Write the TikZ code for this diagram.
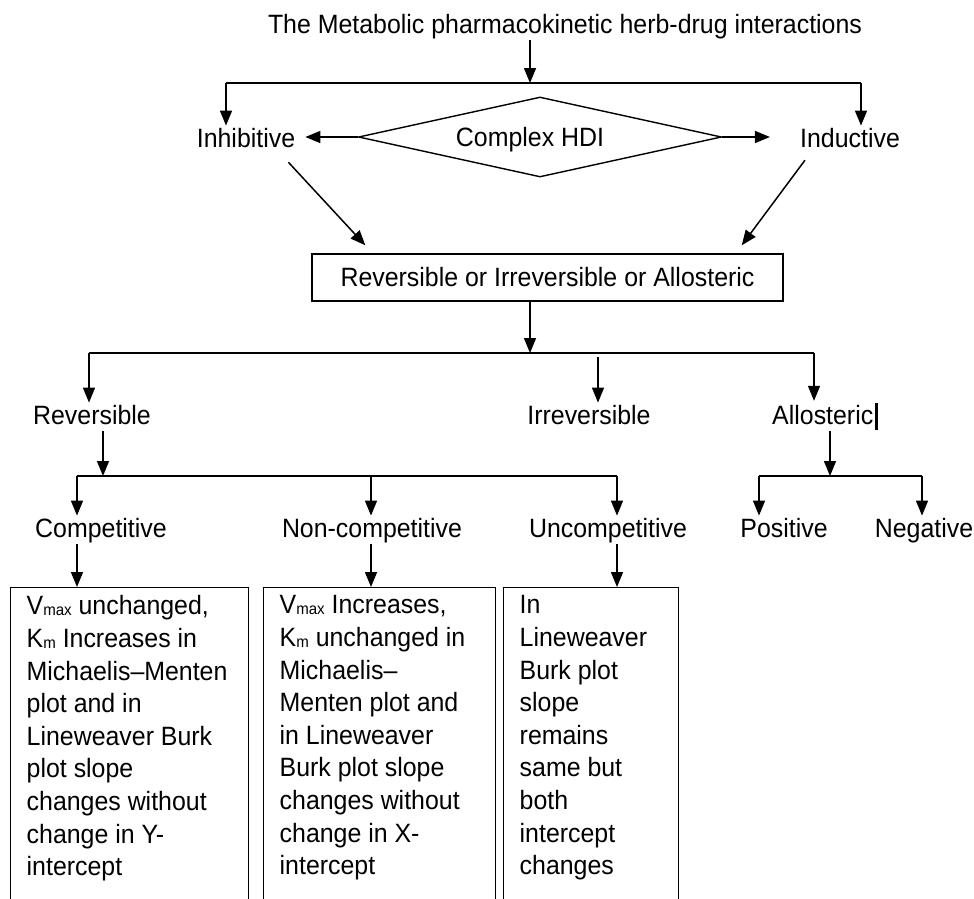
\documentclass[tikz,border=0pt]{standalone}
\usepackage{fontspec}
\setmainfont{Liberation Sans}[FakeStretch=0.94]
\usetikzlibrary{shapes.geometric, arrows.meta, calc}
\newcommand{\lowtxt}[1]{\raisebox{-1pt}{\fontsize{16}{16}\selectfont #1}}
\tikzset{
    % plain text labels
    tag/.style={
        anchor=base,
        inner sep=2pt,
        text depth=5pt,
        font=\fontsize{26.5}{32}\selectfont
    },
    frame/.style={
        rectangle,
        draw,
        line width=1.4pt,
        align=center,
        font=\fontsize{26.5}{32}\selectfont
    },
    decision/.style={
        diamond,
        draw,
        line width=1.4pt,
        minimum width=363pt,
        minimum height=80pt,
        aspect=4.5,
        inner sep=0pt
    },
    detailbox/.style={
        rectangle,
        draw,
        line width=1.4pt,
        anchor=north west,
        inner xsep=16pt,
        inner ysep=8pt,
        font=\fontsize{26.5}{32.6}\selectfont
    },
    % connectors
    arrow/.style={
        -{Triangle[length=15pt,width=12pt]},
        line width=1.5pt
    },
    link/.style={
        line width=1.5pt
    }
}

\begin{document}
\begin{tikzpicture}[x=1pt, y=-1pt]
    \useasboundingbox (0,0) rectangle (974,898);
    \clip (0,0) rectangle (974,898);

    % Top level
    \node[tag] (title) at (565,33) {The Metabolic pharmacokinetic herb-drug interactions};
    \node[tag] (inh) at (246,147) {Inhibitive};
    \node[tag] (ind) at (850,147) {Inductive};
    \node[decision] (hdi) at (540,137) {};
    \node[tag] (hditxt) at (530,146) {Complex HDI};
    \node[frame, minimum width=471pt, minimum height=47pt] (rio) at (547.5,277.5) {Reversible or Irreversible or Allosteric};

    \coordinate (j1) at (530,83);
    \coordinate (t1) at (226,83);
    \coordinate (t2) at (861,83);
    \draw[arrow] (title.south -| j1) -- (j1);
    \draw[link] (t1) -- (t2);
    \draw[arrow] (t1) -- (t1 |- inh.north);
    \draw[arrow] (t2) -- (t2 |- ind.north);
    \draw[arrow, shorten >=8pt] (hdi.west) -- (hdi.west -| inh.east);
    \draw[arrow, shorten >=28pt] (hdi.east) -- (hdi.east -| ind.west);
    \draw[arrow] ($(inh.south east)+(-9,8)$) -- ($(rio.north west)+(54,-8)$);
    \draw[arrow] ($(ind.south west)+(7,6)$) -- ($(rio.north east)+(-42,-8)$);

    % Reversible / Irreversible / Allosteric
    \node[tag] (rev) at (92,424) {Reversible};
    \node[tag] (irr) at (589,424) {Irreversible};
    \node[tag] (allo) at (825,424) {Allosteric\hspace{1.5pt}\rule[-6pt]{3pt}{27pt}};

    \coordinate (j2) at (530,353);
    \coordinate (r1) at (89,353);
    \coordinate (r2) at (598,357);
    \coordinate (r3) at (814,353);
    \draw[arrow] (rio.south -| j2) -- (j2);
    \draw[link] (r1) -- (r3);
    \draw[arrow] (r1) -- (r1 |- rev.north);
    \draw[arrow] (r2) -- (r2 |- irr.north);
    \draw[arrow] (r3) -- (r3 |- allo.north);

    % Kinds of reversible inhibition
    \node[tag] (comp) at (101,537) {Competitive};
    \node[tag] (ncomp) at (372,537) {Non-competitive};
    \node[tag] (ucomp) at (608,537) {Uncompetitive};

    \coordinate (j3) at (103,476);
    \coordinate (c1) at (77,476);
    \coordinate (c2) at (371,476);
    \coordinate (c3) at (617,476);
    \draw[arrow] (rev.south -| j3) -- (j3);
    \draw[link] (c1) -- (c3);
    \foreach \c/\t in {c1/comp, c2/ncomp, c3/ucomp} {
        \draw[arrow] (\c) -- (\c |- \t.north);
    }

    % Allosteric
    \node[tag] (pos) at (784,537) {Positive};
    \node[tag] (neg) at (924,537) {Negative};

    \coordinate (j4) at (830,476);
    \coordinate (p1) at (759,476);
    \coordinate (p2) at (922,476);
    \draw[arrow] (allo.south -| j4) -- (j4);
    \draw[link] (p1) -- (p2);
    \draw[arrow] (p1) -- (p1 |- pos.north);
    \draw[arrow] (p2) -- (p2 |- neg.north);

    % Details
    \node[detailbox] (box1) at (10,587) {\parbox[t][330pt][t]{206pt}{\raggedright
        V\lowtxt{max} unchanged,\\
        K\lowtxt{m} Increases in\\
        Michaelis–Menten\\
        plot and in\\
        Lineweaver Burk\\
        plot slope\\
        changes without\\
        change in Y-\\
        intercept}};
    \node[detailbox] (box2) at (263,587) {\parbox[t][330pt][t]{200pt}{\raggedright
        V\lowtxt{max} Increases,\\
        K\lowtxt{m} unchanged in\\
        Michaelis–\\
        Menten plot and\\
        in Lineweaver\\
        Burk plot slope\\
        changes without\\
        change in X-\\
        intercept}};
    \node[detailbox] (box3) at (503,587) {\parbox[t][330pt][t]{143pt}{\raggedright
        In\\
        Lineweaver\\
        Burk plot\\
        slope\\
        remains\\
        same but\\
        both\\
        intercept\\
        changes}};

    \foreach \t/\b/\c in {comp/box1/c1, ncomp/box2/c2, ucomp/box3/c3} {
        \draw[arrow] (\t.south -| \c) -- (\b.north -| \c);
    }
\end{tikzpicture}
\end{document}
